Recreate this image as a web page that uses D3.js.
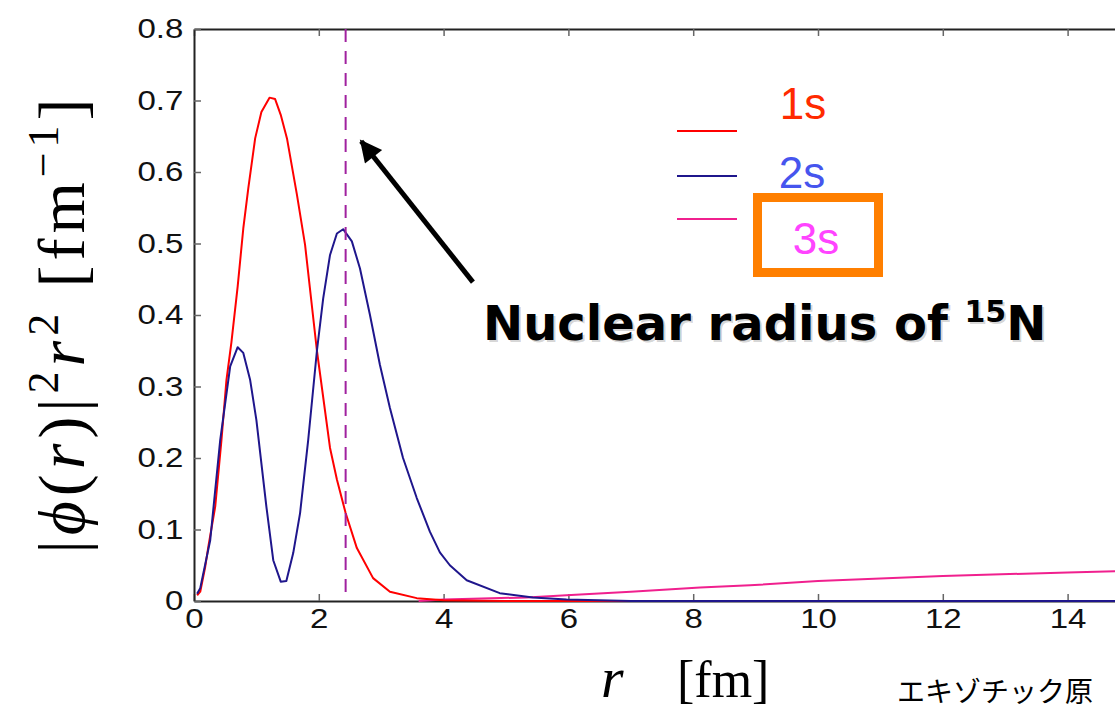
<!DOCTYPE html>
<html>
<head>
<meta charset="utf-8">
<script src="https://cdn.jsdelivr.net/npm/d3@7"></script>
<style>
  body { margin: 0; background: #fff; }
  svg { display: block; }
</style>
</head>
<body>
<div class="chart"></div>
<script>
// radial densities |phi(r)|^2 r^2
const r1s = [0.05, 0.10, 0.18, 0.23, 0.34, 0.44, 0.52, 0.60, 0.70, 0.79, 0.87, 0.98, 1.08, 1.21, 1.30, 1.39, 1.49, 1.65, 1.78, 1.97, 2.18, 2.29, 2.43, 2.61, 2.87, 3.14, 3.57, 4.0, 5.0, 16.0];
const v1s = [0.008, 0.013, 0.048, 0.076, 0.132, 0.225, 0.309, 0.362, 0.440, 0.521, 0.577, 0.647, 0.684, 0.704, 0.702, 0.680, 0.647, 0.568, 0.498, 0.350, 0.214, 0.170, 0.123, 0.074, 0.032, 0.013, 0.004, 0.001, 0.0, 0.0];

const r2s = [0.05, 0.10, 0.26, 0.42, 0.58, 0.70, 0.79, 0.90, 1.00, 1.16, 1.27, 1.39, 1.48, 1.59, 1.70, 1.83, 1.97, 2.07, 2.18, 2.29, 2.39, 2.53, 2.66, 2.82, 2.98, 3.14, 3.35, 3.57, 3.78, 3.94, 4.10, 4.37, 4.90, 5.43, 5.97, 7.0, 16.0];
const v2s = [0.010, 0.018, 0.085, 0.225, 0.328, 0.355, 0.347, 0.309, 0.253, 0.132, 0.057, 0.027, 0.028, 0.067, 0.123, 0.225, 0.350, 0.423, 0.484, 0.514, 0.520, 0.503, 0.465, 0.400, 0.330, 0.270, 0.200, 0.144, 0.097, 0.068, 0.050, 0.029, 0.011, 0.005, 0.002, 0.0, 0.0];

const r3s = [3.6, 4.0, 5.33, 5.97, 7.0, 8.11, 8.91, 10.0, 12.0, 14.0, 15.0, 16.0];
const v3s = [0.0, 0.002, 0.005, 0.008, 0.013, 0.019, 0.022, 0.028, 0.035, 0.040, 0.042, 0.043];

const xTicks = [0, 2, 4, 6, 8, 10, 12, 14];
const yTicks = [0, 0.1, 0.2, 0.3, 0.4, 0.5, 0.6, 0.7, 0.8];
const yTickLabels = ['0', '0.1', '0.2', '0.3', '0.4', '0.5', '0.6', '0.7', '0.8'];

const nuclearRadius = 2.43;   // fm, 15N
const arrowFrom = [4.47, 0.446];
const arrowTo = [2.68, 0.643];

const seriesNames = ['1s', '2s', '3s'];
const lineColors = ['#ff0000', '#1f168c', '#f0208e'];
const labelColors = ['#ff2a00', '#4655ee', '#ff44ff'];

const width = 1115;
const height = 712;
const plot = { left: 194, top: 29, bottom: 601 };

const svg = d3.select('.chart')
  .append('svg')
  .attr('width', width)
  .attr('height', height);

svg.append('rect').attr('width', width).attr('height', height).attr('fill', '#fff');

const x = d3.scaleLinear().domain([0, 16]).range([plot.left, plot.left + 16 * 62.4]);
const y = d3.scaleLinear().domain([0, 0.8]).range([plot.bottom, plot.top]);

const tickFont = (g) => g.selectAll('text')
  .attr('font-family', '"Liberation Sans", Arial, sans-serif')
  .attr('font-size', 28)
  .attr('fill', '#111')
  .attr('transform', 'scale(1.18,1)');

const styleAxis = (g) => {
  g.select('.domain').attr('stroke', '#222').attr('stroke-width', 2);
  g.selectAll('.tick line').attr('stroke', '#666').attr('stroke-width', 1.5);
};

// bottom axis
svg.append('g')
  .attr('transform', `translate(0, ${plot.bottom})`)
  .call(d3.axisBottom(x).tickValues(xTicks).tickSizeInner(-7).tickSizeOuter(0).tickPadding(7).tickFormat(d3.format('d')))
  .call(styleAxis)
  .call(tickFont);

// top axis (ticks only)
svg.append('g')
  .attr('transform', `translate(0, ${plot.top})`)
  .call(d3.axisTop(x).tickValues(xTicks).tickSizeInner(-7).tickSizeOuter(0).tickFormat(''))
  .call(styleAxis);

// left axis
svg.append('g')
  .attr('transform', `translate(${plot.left}, 0)`)
  .call(d3.axisLeft(y).tickValues(yTicks).tickSizeInner(-7).tickSizeOuter(0).tickPadding(9)
    .tickFormat((d, i) => yTickLabels[i]))
  .call(styleAxis)
  .call(tickFont);

// curves
const line = d3.line().x(d => x(d[0])).y(d => y(d[1]));
const series = [
  d3.zip(r3s, v3s),
  d3.zip(r1s, v1s),
  d3.zip(r2s, v2s)
];
const seriesColor = [lineColors[2], lineColors[0], lineColors[1]];

svg.append('g')
  .selectAll('path')
  .data(series)
  .enter()
  .append('path')
  .attr('fill', 'none')
  .attr('stroke', (d, i) => seriesColor[i])
  .attr('stroke-width', 2)
  .attr('stroke-linejoin', 'round')
  .attr('d', line);

// nuclear radius marker
svg.append('line')
  .attr('x1', x(nuclearRadius))
  .attr('x2', x(nuclearRadius))
  .attr('y1', y(0.8))
  .attr('y2', y(0))
  .attr('stroke', '#a0219f')
  .attr('stroke-width', 2)
  .attr('stroke-dasharray', '13 9');

// arrow
svg.append('defs').append('marker')
  .attr('id', 'head')
  .attr('viewBox', '0 0 10 10')
  .attr('refX', 9)
  .attr('refY', 5)
  .attr('markerWidth', 5)
  .attr('markerHeight', 4.4)
  .attr('markerUnits', 'strokeWidth')
  .attr('orient', 'auto')
  .append('path')
  .attr('d', 'M0,0 L10,5 L0,10 z')
  .attr('fill', '#000');

svg.append('line')
  .attr('x1', x(arrowFrom[0]))
  .attr('y1', y(arrowFrom[1]))
  .attr('x2', x(arrowTo[0]))
  .attr('y2', y(arrowTo[1]))
  .attr('stroke', '#000')
  .attr('stroke-width', 5)
  .attr('marker-end', 'url(#head)');

// annotation text with soft shadow
const note = (dx, dy, fill) => {
  const t = svg.append('text')
    .attr('x', 483 + dx)
    .attr('y', 340 + dy)
    .attr('font-family', '"DejaVu Sans", Verdana, sans-serif')
    .attr('font-weight', 'bold')
    .attr('font-size', 48)
    .attr('fill', fill);
  t.append('tspan').text('Nuclear radius of ');
  t.append('tspan').attr('font-size', 30).attr('dy', -18).text('15');
  t.append('tspan').attr('dy', 18).text('N');
};
note(2, 2, 'rgba(0,0,0,0.18)');
note(0, 0, '#000');

// legend
const legendLineY = [131, 176, 219];
const legendLabel = [[803, 119], [802, 188], [816, 254]];

svg.append('g')
  .selectAll('line')
  .data(seriesNames)
  .enter()
  .append('line')
  .attr('x1', 677)
  .attr('x2', 737)
  .attr('y1', (d, i) => legendLineY[i])
  .attr('y2', (d, i) => legendLineY[i])
  .attr('stroke', (d, i) => lineColors[i])
  .attr('stroke-width', 2);

svg.append('rect')
  .attr('x', 757.5)
  .attr('y', 197.5)
  .attr('width', 121)
  .attr('height', 75)
  .attr('fill', 'none')
  .attr('stroke', '#ff7f00')
  .attr('stroke-width', 9);

svg.append('g')
  .selectAll('text')
  .data(seriesNames)
  .enter()
  .append('text')
  .attr('x', (d, i) => legendLabel[i][0])
  .attr('y', (d, i) => legendLabel[i][1])
  .attr('text-anchor', 'middle')
  .attr('font-family', '"Liberation Sans", Arial, sans-serif')
  .attr('font-size', 44)
  .attr('fill', (d, i) => labelColors[i])
  .text(d => d);

// axis labels
const serif = '"Liberation Serif", "Times New Roman", serif';

const yLabel = svg.append('text')
  .attr('transform', 'translate(84, 326) rotate(-90)')
  .attr('text-anchor', 'middle')
  .attr('font-family', serif)
  .attr('font-size', 66)
  .attr('fill', '#000')
  .attr('textLength', 455)
  .attr('lengthAdjust', 'spacing');
yLabel.append('tspan').text('|');
yLabel.append('tspan').attr('font-style', 'italic').text('ϕ');
yLabel.append('tspan').text('(');
yLabel.append('tspan').attr('font-style', 'italic').text('r');
yLabel.append('tspan').text(')|');
yLabel.append('tspan').attr('font-size', 44).attr('dy', -26).text('2');
yLabel.append('tspan').attr('font-style', 'italic').attr('dy', 26).text('r');
yLabel.append('tspan').attr('font-size', 44).attr('dy', -26).text('2');
yLabel.append('tspan').attr('dy', 26).text('  [fm');
yLabel.append('tspan').attr('font-size', 44).attr('dy', -26).text('−1');
yLabel.append('tspan').attr('dy', 26).text(']');

svg.append('text')
  .attr('x', 601)
  .attr('y', 697)
  .attr('font-family', serif)
  .attr('font-style', 'italic')
  .attr('font-size', 58)
  .attr('fill', '#000')
  .text('r');

svg.append('text')
  .attr('x', 677)
  .attr('y', 697)
  .attr('font-family', serif)
  .attr('font-size', 52)
  .attr('fill', '#000')
  .text('[fm]');

svg.append('text')
  .attr('x', 897)
  .attr('y', 702)
  .attr('font-family', '"Noto Sans CJK JP", sans-serif')
  .attr('font-size', 28)
  .attr('fill', '#000')
  .text('エキゾチック原');
</script>
</body>
</html>
